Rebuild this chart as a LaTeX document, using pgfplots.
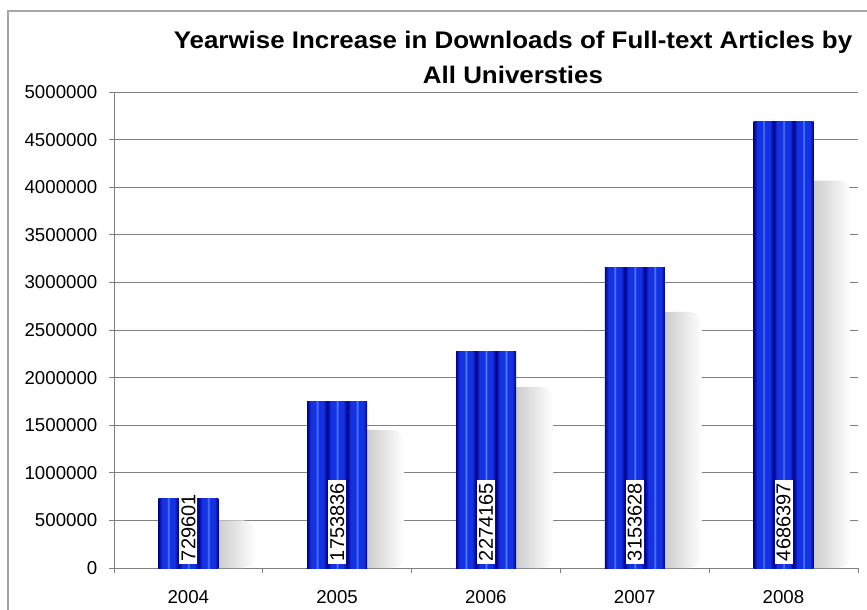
\documentclass[border=0pt]{standalone}
\usepackage{graphicx}
\usepackage{pgfplots}
\pgfplotsset{compat=1.18}
\usepackage{fontspec}
\setmainfont{Liberation Sans}
\definecolor{bnavy}{RGB}{0,0,140}
\definecolor{bblue}{RGB}{20,50,225}
\definecolor{bhl}{RGB}{80,125,255}
\definecolor{gridgray}{RGB}{128,128,128}
\pgfdeclarehorizontalshading{barstripes}{100bp}{color(0bp)=(bnavy); color(25bp)=(bnavy); color(28bp)=(bblue); color(32bp)=(bblue); color(33.3bp)=(bhl); color(34.5bp)=(bblue); color(38.5bp)=(bblue); color(41.67bp)=(bnavy); color(44.67bp)=(bblue); color(48.67bp)=(bblue); color(50bp)=(bhl); color(51.2bp)=(bblue); color(55.2bp)=(bblue); color(58.33bp)=(bnavy); color(61.33bp)=(bblue); color(65.33bp)=(bblue); color(66.67bp)=(bhl); color(67.9bp)=(bblue); color(71.9bp)=(bblue); color(75bp)=(bnavy); color(100bp)=(bnavy)}
\pgfplotsset{
  shadowbar/.style={ybar, bar width=45pt, bar shift=27.75pt, draw=none, left color=black!32, right color=white, rounded corners=9pt},
  mainbar/.style={ybar, bar width=45pt, bar shift=0pt, draw=none, shade, shading=barstripes},
}
\begin{document}
\begin{tikzpicture}
\useasboundingbox (0,0) rectangle (650.25pt,-457.5pt);
\draw[gray!70, line width=0.8pt] (6pt,-470pt) -- (6pt,-8.25pt) -- (660pt,-8.25pt);
\node[font=\bfseries\fontsize{18}{26.25}\selectfont] at (384.75pt,-44.25pt) {\scalebox{1.08}[1]{\begin{tabular}{@{}c@{}}Yearwise Increase in Downloads of Full-text Articles by\\[0.5pt]All Universties\end{tabular}}};
\begin{axis}[
  at={(85.5pt,-426pt)}, anchor=south west,
  width=558pt, height=357pt, scale only axis,
  xmin=-0.5, xmax=4.5, ymin=0, ymax=5000000,
  axis x line*=bottom, axis y line*=left,
  xtick pos=lower, ytick pos=left,
  axis line style={gridgray, line width=0.6pt},
  ytick={0,500000,...,5000000},
  scaled y ticks=false,
  yticklabel style={/pgf/number format/fixed, /pgf/number format/1000 sep={}, /pgf/number format/assume math mode=true, font=\fontsize{14}{16}\selectfont, xshift=-5pt},
  ymajorgrids, major grid style={gridgray, line width=0.6pt},
  xtick={-0.5,0.5,1.5,2.5,3.5,4.5},
  xticklabels={2004,2005,2006,2007,2008,{}},
  xticklabel style={xshift=55.7pt, font=\fontsize{14}{16}\selectfont, yshift=-9pt},
  tick align=outside, major tick length=4pt,
  tick style={gridgray, line width=0.6pt},
]
% shadows
\addplot[shadowbar] coordinates {(0,500000)};
\addplot[shadowbar] coordinates {(1,1450000)};
\addplot[shadowbar] coordinates {(2,1900000)};
\addplot[shadowbar] coordinates {(3,2690000)};
\addplot[shadowbar] coordinates {(4,4070000)};
% bars
\addplot[mainbar] coordinates {(0,729601)};
\addplot[mainbar] coordinates {(1,1753836)};
\addplot[mainbar] coordinates {(2,2274165)};
\addplot[mainbar] coordinates {(3,3153628)};
\addplot[mainbar] coordinates {(4,4686397)};
% value labels
\addplot[draw=none, mark=none, nodes near coords, point meta=explicit symbolic,
  nodes near coords style={rotate=90, anchor=west, fill=white, inner sep=1.5pt, inner xsep=2.5pt, font=\fontsize{15}{15}\selectfont, text=black}]
  coordinates {(0,35000)[729601] (1,35000)[1753836] (2,35000)[2274165] (3,35000)[3153628] (4,35000)[4686397]};
\end{axis}
\end{tikzpicture}
\end{document}
